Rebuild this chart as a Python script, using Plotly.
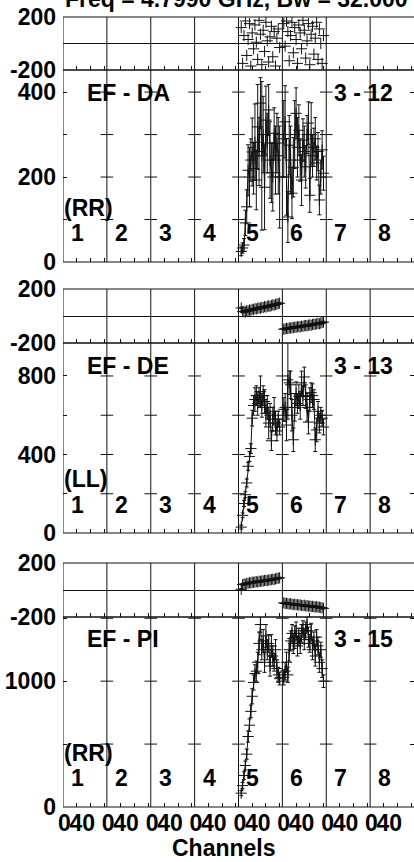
import plotly.graph_objects as go

# ---------------- data ----------------
NCH = 64                     # channels per IF
IF_NAMES = ["1", "2", "3", "4", "5", "6", "7", "8"]
TITLE = "Freq = 4.7990 GHz, Bw = 32.000 MHz"
BASELINES = ["EF - DA", "EF - DE", "EF - PI"]
BL_IDS = ["3 - 12", "3 - 13", "3 - 15"]
POLS = ["(RR)", "(LL)", "(RR)"]

ch_if5 = list(range(4, 61, 2))   # channels with data in IF 5
ch_if6 = list(range(2, 61, 2))   # channels with data in IF 6

# EF - DA (3 - 12)
ph_DA_if5 = [120, -150, 60, 170, -90, 30, 150, -170, 80, -40, 140, 10, -120, 175, 70,
             -160, 100, -60, 160, 20, -140, 50, 130, -100, 90, -170, 40, 110, -30]
ph_DA_if6 = [150, -20, 170, 90, -130, 60, 160, -70, 120, 30, -150, 140, 80, -40, 175,
             100, -110, 20, 150, -160, 70, 130, -80, 40, 160, -120, 110, 0, -150, 60]
amp_DA_if5 = [25, 33, 40, 92, 130, 216, 200, 240, 259, 220, 282, 193, 318, 260, 374,
              250, 300, 176, 334, 280, 358, 240, 210, 200, 303, 240, 280, 250, 200]
err_DA_if5 = [10, 12, 15, 30, 40, 60, 70, 50, 80, 60, 90, 70, 100, 80, 60,
              175, 90, 100, 80, 70, 60, 90, 70, 80, 60, 80, 70, 90, 120]
amp_DA_if6 = [290, 330, 200, 106, 275, 240, 162, 223, 300, 350, 270, 310, 240, 193, 287,
              260, 224, 300, 327, 157, 300, 250, 270, 290, 233, 260, 146, 200, 264, 209]
err_DA_if6 = [90, 85, 90, 60, 70, 80, 60, 70, 80, 60, 70, 60, 50, 60, 50,
              60, 50, 45, 50, 40, 75, 50, 45, 50, 40, 45, 35, 40, 45, 40]

# EF - DE (3 - 13)
ph_DE_if5 = [60, 32, 35, 30, 40, 38, 45, 42, 50, 47, 55, 52, 58, 60, 57,
             65, 62, 70, 66, 72, 75, 71, 78, 82, 80, 86, 88, 92, 95]
ph_DE_if6 = [-98, -95, -92, -94, -88, -90, -85, -87, -82, -84, -80, -78, -81, -75, -77,
             -72, -70, -73, -68, -66, -69, -63, -60, -62, -57, -55, -58, -52, -48, -45]
amp_DE_if5 = [30, 90, 150, 195, 255, 340, 390, 430, 585, 650, 680, 700, 660, 690, 720,
              650, 700, 670, 610, 640, 560, 600, 470, 580, 620, 560, 520, 580, 540]
err_DE_if5 = [10, 12, 15, 15, 20, 20, 25, 25, 40, 50, 60, 50, 60, 50, 80,
              60, 50, 60, 70, 60, 80, 60, 50, 60, 70, 60, 50, 40, 40]
amp_DE_if6 = [630, 640, 550, 780, 765, 755, 600, 475, 640, 710, 660, 695, 650, 765, 700,
              795, 695, 640, 565, 680, 715, 700, 680, 475, 525, 620, 560, 600, 585, 540]
err_DE_if6 = [60, 70, 80, 200, 60, 70, 80, 60, 70, 60, 50, 60, 70, 60, 50,
              50, 60, 70, 60, 60, 50, 60, 50, 60, 60, 50, 50, 40, 40, 40]

# EF - PI (3 - 15)
ph_PI_if5 = [5, 40, 45, 42, 50, 48, 55, 52, 58, 56, 60, 62, 59, 65, 63,
             68, 66, 70, 72, 69, 75, 73, 78, 80, 77, 83, 85, 88, 90]
ph_PI_if6 = [-95, -100, -98, -102, -104, -101, -106, -108, -105, -110, -108, -112, -110, -114, -116,
             -113, -118, -116, -120, -119, -122, -121, -124, -126, -123, -128, -127, -130, -133, -136]
amp_PI_if5 = [110, 170, 250, 330, 420, 560, 650, 760, 880, 990, 1060, 1080, 1150, 1300, 1450,
              1250, 1320, 1150, 1360, 1250, 1300, 1120, 1280, 1200, 1150, 1250, 1100, 1050, 1020]
err_PI_if5 = [20, 25, 30, 35, 40, 45, 50, 50, 60, 60, 70, 80, 80, 90, 60,
              80, 90, 80, 90, 80, 70, 80, 90, 80, 70, 80, 70, 60, 50]
amp_PI_if6 = [1030, 1080, 1150, 1050, 1250, 1320, 1380, 1300, 1350, 1400, 1280, 1350, 1300, 1380, 1420,
              1330, 1400, 1450, 1350, 1300, 1400, 1250, 1320, 1200, 1350, 1280, 1150, 1250, 1100, 1000]
err_PI_if6 = [60, 70, 80, 60, 90, 80, 70, 80, 90, 70, 80, 70, 80, 70, 60,
              80, 70, 60, 80, 70, 60, 80, 70, 80, 60, 70, 80, 60, 70, 50]

# axis ranges and ticks
PH_RANGE = [-200, 200]
PH_TICKS = [-200, 200]
AMP_RANGES = [[0, 452], [0, 968], [0, 1510]]
AMP_TICKS = [[0, 200, 400], [0, 400, 800], [0, 1000]]
AMP_MINOR = [[100, 300], [200, 600], [500, 1500]]
X_LABEL_OFFSETS = [2, 28]      # where the "0" and "40" labels are printed in each IF
X_LABEL_TEXT = ["0", "40"]
X_MINOR_OFFSETS = [20, 40, 60]

# ---------------- layout geometry (pixels) ----------------
W, H = 414, 862
ML, MR, MT, MB = 63, 0, 17, 55
PH = H - MT - MB
def py(p):
    return (H - MB - p) / PH
def px(p):
    return (p - ML) / (W - ML - MR)

panels_px = [(17, 70), (70, 262), (289, 343), (343, 533), (563, 617), (617, 807)]
domains = [[py(b), py(t)] for t, b in panels_px]

FONT = dict(family="Liberation Sans, Arial, sans-serif", size=23, color="black", weight="bold")
BLACK = "#111111"

fig = go.Figure()

def xpos(if_idx, chans):
    return [if_idx * NCH + c for c in chans]

def add_series(k, if_idx, chans, vals, errs=None, mode="lines+markers"):
    tr = go.Scatter(
        x=xpos(if_idx, chans), y=vals, mode=mode,
        xaxis="x" if k == 1 else f"x{k}", yaxis="y" if k == 1 else f"y{k}",
        line=dict(color=BLACK, width=1),
        marker=dict(symbol="cross-thin", size=8, line=dict(color=BLACK, width=1)),
        hoverinfo="skip",
    )
    if errs is not None:
        tr.error_y = dict(type="data", array=errs, visible=True, color=BLACK, thickness=1, width=2)
    fig.add_trace(tr)

# phases / amplitudes, IF 5 is index 4, IF 6 is index 5
add_series(1, 4, ch_if5, ph_DA_if5, mode="markers")
add_series(1, 5, ch_if6, ph_DA_if6, mode="markers")
add_series(2, 4, ch_if5, amp_DA_if5, err_DA_if5)
add_series(2, 5, ch_if6, amp_DA_if6, err_DA_if6)
add_series(3, 4, ch_if5, ph_DE_if5, [6] * len(ch_if5))
add_series(3, 5, ch_if6, ph_DE_if6, [6] * len(ch_if6))
add_series(4, 4, ch_if5, amp_DE_if5, err_DE_if5)
add_series(4, 5, ch_if6, amp_DE_if6, err_DE_if6)
add_series(5, 4, ch_if5, ph_PI_if5, [5] * len(ch_if5))
add_series(5, 5, ch_if6, ph_PI_if6, [5] * len(ch_if6))
add_series(6, 4, ch_if5, amp_PI_if5, err_PI_if5)
add_series(6, 5, ch_if6, amp_PI_if6, err_PI_if6)

# crossing y ticks on the inner IF boundaries of the amplitude panels
for j, k in enumerate([2, 4, 6]):
    tv = [t for t in AMP_TICKS[j] + AMP_MINOR[j] if t > 0 and t <= AMP_RANGES[j][1]]
    bx, by = [], []
    for i in range(1, len(IF_NAMES)):
        for t in tv:
            bx.append(i * NCH)
            by.append(t)
    fig.add_trace(go.Scatter(
        x=bx, y=by, mode="markers", xaxis=f"x{k}", yaxis=f"y{k}",
        marker=dict(symbol="line-ew", size=9, line=dict(color=BLACK, width=1)),
        hoverinfo="skip"))

xr = [0, NCH * len(IF_NAMES)]
lab_vals, lab_text, minor_vals = [], [], []
for i in range(len(IF_NAMES)):
    for o, t in zip(X_LABEL_OFFSETS, X_LABEL_TEXT):
        lab_vals.append(i * NCH + o)
        lab_text.append(t)
    for o in X_MINOR_OFFSETS:
        minor_vals.append(i * NCH + o)

layout = dict(
    width=W, height=H, margin=dict(l=ML, r=MR, t=MT, b=MB, autoexpand=False),
    paper_bgcolor="white", plot_bgcolor="white", showlegend=False,
    font=FONT,
)
for k in range(1, 7):
    xname = "xaxis" if k == 1 else f"xaxis{k}"
    yname = "yaxis" if k == 1 else f"yaxis{k}"
    layout[xname] = dict(
        domain=[0, 1], range=xr, anchor="y" if k == 1 else f"y{k}", automargin=False,
        showgrid=False, zeroline=False, showline=False,
        tickmode="array", tickvals=lab_vals, ticktext=lab_text, ticks="",
        showticklabels=(k == 6), tickangle=0, tickfont=FONT,
        mirror="ticks",
        minor=dict(tickmode="array", tickvals=minor_vals, ticks="inside", ticklen=4,
                   tickcolor=BLACK, tickwidth=1, showgrid=False),
    )
    if k > 1:
        layout[xname]["matches"] = "x"
    is_phase = k in (1, 3, 5)
    if is_phase:
        layout[yname] = dict(
            domain=domains[k - 1], range=PH_RANGE, anchor="x" if k == 1 else f"x{k}",
            automargin=False,
            showgrid=False, zeroline=True, zerolinecolor=BLACK, zerolinewidth=1,
            showline=False, tickmode="array", tickvals=PH_TICKS,
            ticktext=[str(v) for v in PH_TICKS], ticks="", tickfont=FONT,
            ticklabelstandoff=6,
        )
    else:
        j = [2, 4, 6].index(k)
        layout[yname] = dict(
            domain=domains[k - 1], range=AMP_RANGES[j], anchor=f"x{k}", automargin=False,
            showgrid=False, zeroline=False, showline=False,
            tickmode="array", tickvals=AMP_TICKS[j], ticktext=[str(v) for v in AMP_TICKS[j]],
            ticks="inside", ticklen=4, tickcolor=BLACK, mirror="ticks", tickfont=FONT,
            ticklabelstandoff=6,
            minor=dict(tickmode="array", tickvals=AMP_MINOR[j], ticks="inside", ticklen=4,
                       tickcolor=BLACK, showgrid=False),
        )

# frames and IF boundary lines
shapes = []
for (y0, y1) in domains:
    for yy in (y0, y1):
        shapes.append(dict(type="line", xref="paper", yref="paper", x0=0, x1=1, y0=yy, y1=yy,
                           line=dict(color=BLACK, width=1)))
    for i in range(len(IF_NAMES)):
        shapes.append(dict(type="line", xref="x", yref="paper", x0=i * NCH, x1=i * NCH,
                           y0=y0, y1=y1, line=dict(color=BLACK, width=1)))
layout["shapes"] = shapes

ann = []
ann.append(dict(text=TITLE, xref="paper", yref="paper", x=0, y=py(-1), xanchor="left",
                yanchor="middle", showarrow=False, font=FONT))
name_y = [93, 366, 639]
pol_y = [208, 479, 753]
num_y = [233, 505, 778]
for j in range(3):
    ann.append(dict(text=BASELINES[j], xref="paper", yref="paper", x=px(85), y=py(name_y[j]),
                    xanchor="left", yanchor="middle", showarrow=False, font=FONT))
    ann.append(dict(text=BL_IDS[j], xref="paper", yref="paper", x=px(332), y=py(name_y[j]),
                    xanchor="left", yanchor="middle", showarrow=False, font=FONT))
    ann.append(dict(text=POLS[j], xref="paper", yref="paper", x=px(62), y=py(pol_y[j]),
                    xanchor="left", yanchor="middle", showarrow=False, font=FONT))
    for i, nm in enumerate(IF_NAMES):
        ann.append(dict(text=nm, xref="x", yref="paper", x=i * NCH + 21, y=py(num_y[j]),
                        xanchor="center", yanchor="middle", showarrow=False, font=FONT))
ann.append(dict(text="Channels", xref="paper", yref="paper", x=px(224), y=py(848),
                xanchor="center", yanchor="middle", showarrow=False, font=FONT))
layout["annotations"] = ann

fig.update_layout(**layout)
fig.write_html(
    "out.html",
    config={"displayModeBar": False},
    post_script="document.body.style.margin='0';document.body.style.overflow='hidden';",
)
